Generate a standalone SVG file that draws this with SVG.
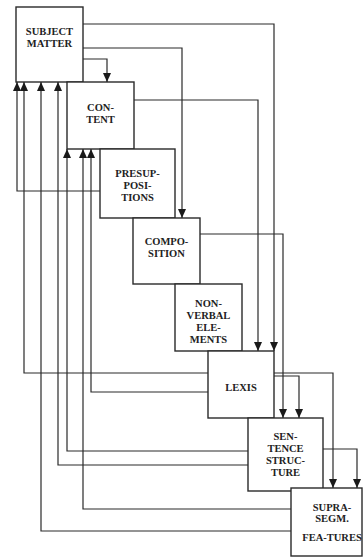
<svg xmlns="http://www.w3.org/2000/svg" width="363" height="558" viewBox="0 0 363 558">
<style>
.box{fill:#fff;stroke:#2a2a2a;stroke-width:1.4}
.lbl{font-family:"Liberation Serif","Times New Roman",serif;font-weight:bold;font-size:10.5px;fill:#222;text-anchor:middle}
.c{fill:none;stroke:#2a2a2a;stroke-width:1.2;marker-end:url(#ah)}
</style>
<defs>
<marker id="ah" markerUnits="userSpaceOnUse" markerWidth="9" markerHeight="8" refX="9" refY="4" orient="auto">
<path d="M0,0 L9,4 L0,8 z" fill="#1a1a1a"/>
</marker>
</defs>
<rect width="363" height="558" fill="#fff"/>
<g id="subject-matter"><rect class="box" x="16" y="7" width="67" height="75"/><text class="lbl" x="49.5" y="34.5">SUBJECT</text><text class="lbl" x="49.5" y="46.5">MATTER</text></g>
<g id="content"><rect class="box" x="67" y="82" width="67" height="67"/><text class="lbl" x="100.5" y="110.5">CON-</text><text class="lbl" x="100.5" y="122.5">TENT</text></g>
<g id="presuppositions"><rect class="box" x="100" y="149" width="75" height="69"/><text class="lbl" x="137.5" y="176.5">PRESUP-</text><text class="lbl" x="137.5" y="188.5">POSI-</text><text class="lbl" x="137.5" y="200.5">TIONS</text></g>
<g id="composition"><rect class="box" x="133" y="218" width="67" height="66"/><text class="lbl" x="166.5" y="245">COMPO-</text><text class="lbl" x="166.5" y="256.5">SITION</text></g>
<g id="nonverbal"><rect class="box" x="175" y="284" width="67" height="67"/><text class="lbl" x="208.5" y="306.5">NON-</text><text class="lbl" x="208.5" y="318.5">VERBAL</text><text class="lbl" x="208.5" y="330.5">ELE-</text><text class="lbl" x="208.5" y="342.5">MENTS</text></g>
<g id="lexis"><rect class="box" x="208" y="351" width="66" height="67"/><text class="lbl" x="241" y="390.5">LEXIS</text></g>
<g id="sentence-structure"><rect class="box" x="248" y="418" width="75" height="73"/><text class="lbl" x="285.5" y="439.5">SEN-</text><text class="lbl" x="285.5" y="451.5">TENCE</text><text class="lbl" x="285.5" y="463.5">STRUC-</text><text class="lbl" x="285.5" y="475.5">TURE</text></g>
<g id="suprasegmental"><rect class="box" x="291" y="488" width="71" height="68"/><text class="lbl" x="332" y="510.5">SUPRA-</text><text class="lbl" x="332" y="521.5">SEGM.</text><text class="lbl" x="332" y="540.5">FEA-TURES</text></g>
<g id="connectors">
<path class="c" d="M83,24 H274 V351"/>
<path class="c" d="M83,48 H182 V218"/>
<path class="c" d="M83,59 H107 V82"/>
<path class="c" d="M134,100 H258 V351"/>
<path class="c" d="M200,234 H283 V418"/>
<path class="c" d="M274,373 H333 V488"/>
<path class="c" d="M274,376 H299 V418"/>
<path class="c" d="M323,449 H357 V488"/>
<path class="c" d="M100,191 H17 V82"/>
<path class="c" d="M208,373 H24 V82"/>
<path class="c" d="M208,392 H91 V149"/>
<path class="c" d="M248,451 H67 V149"/>
<path class="c" d="M248,465 H58 V82"/>
<path class="c" d="M291,509 H83 V149"/>
<path class="c" d="M291,531 H41 V82"/>
</g>
</svg>
